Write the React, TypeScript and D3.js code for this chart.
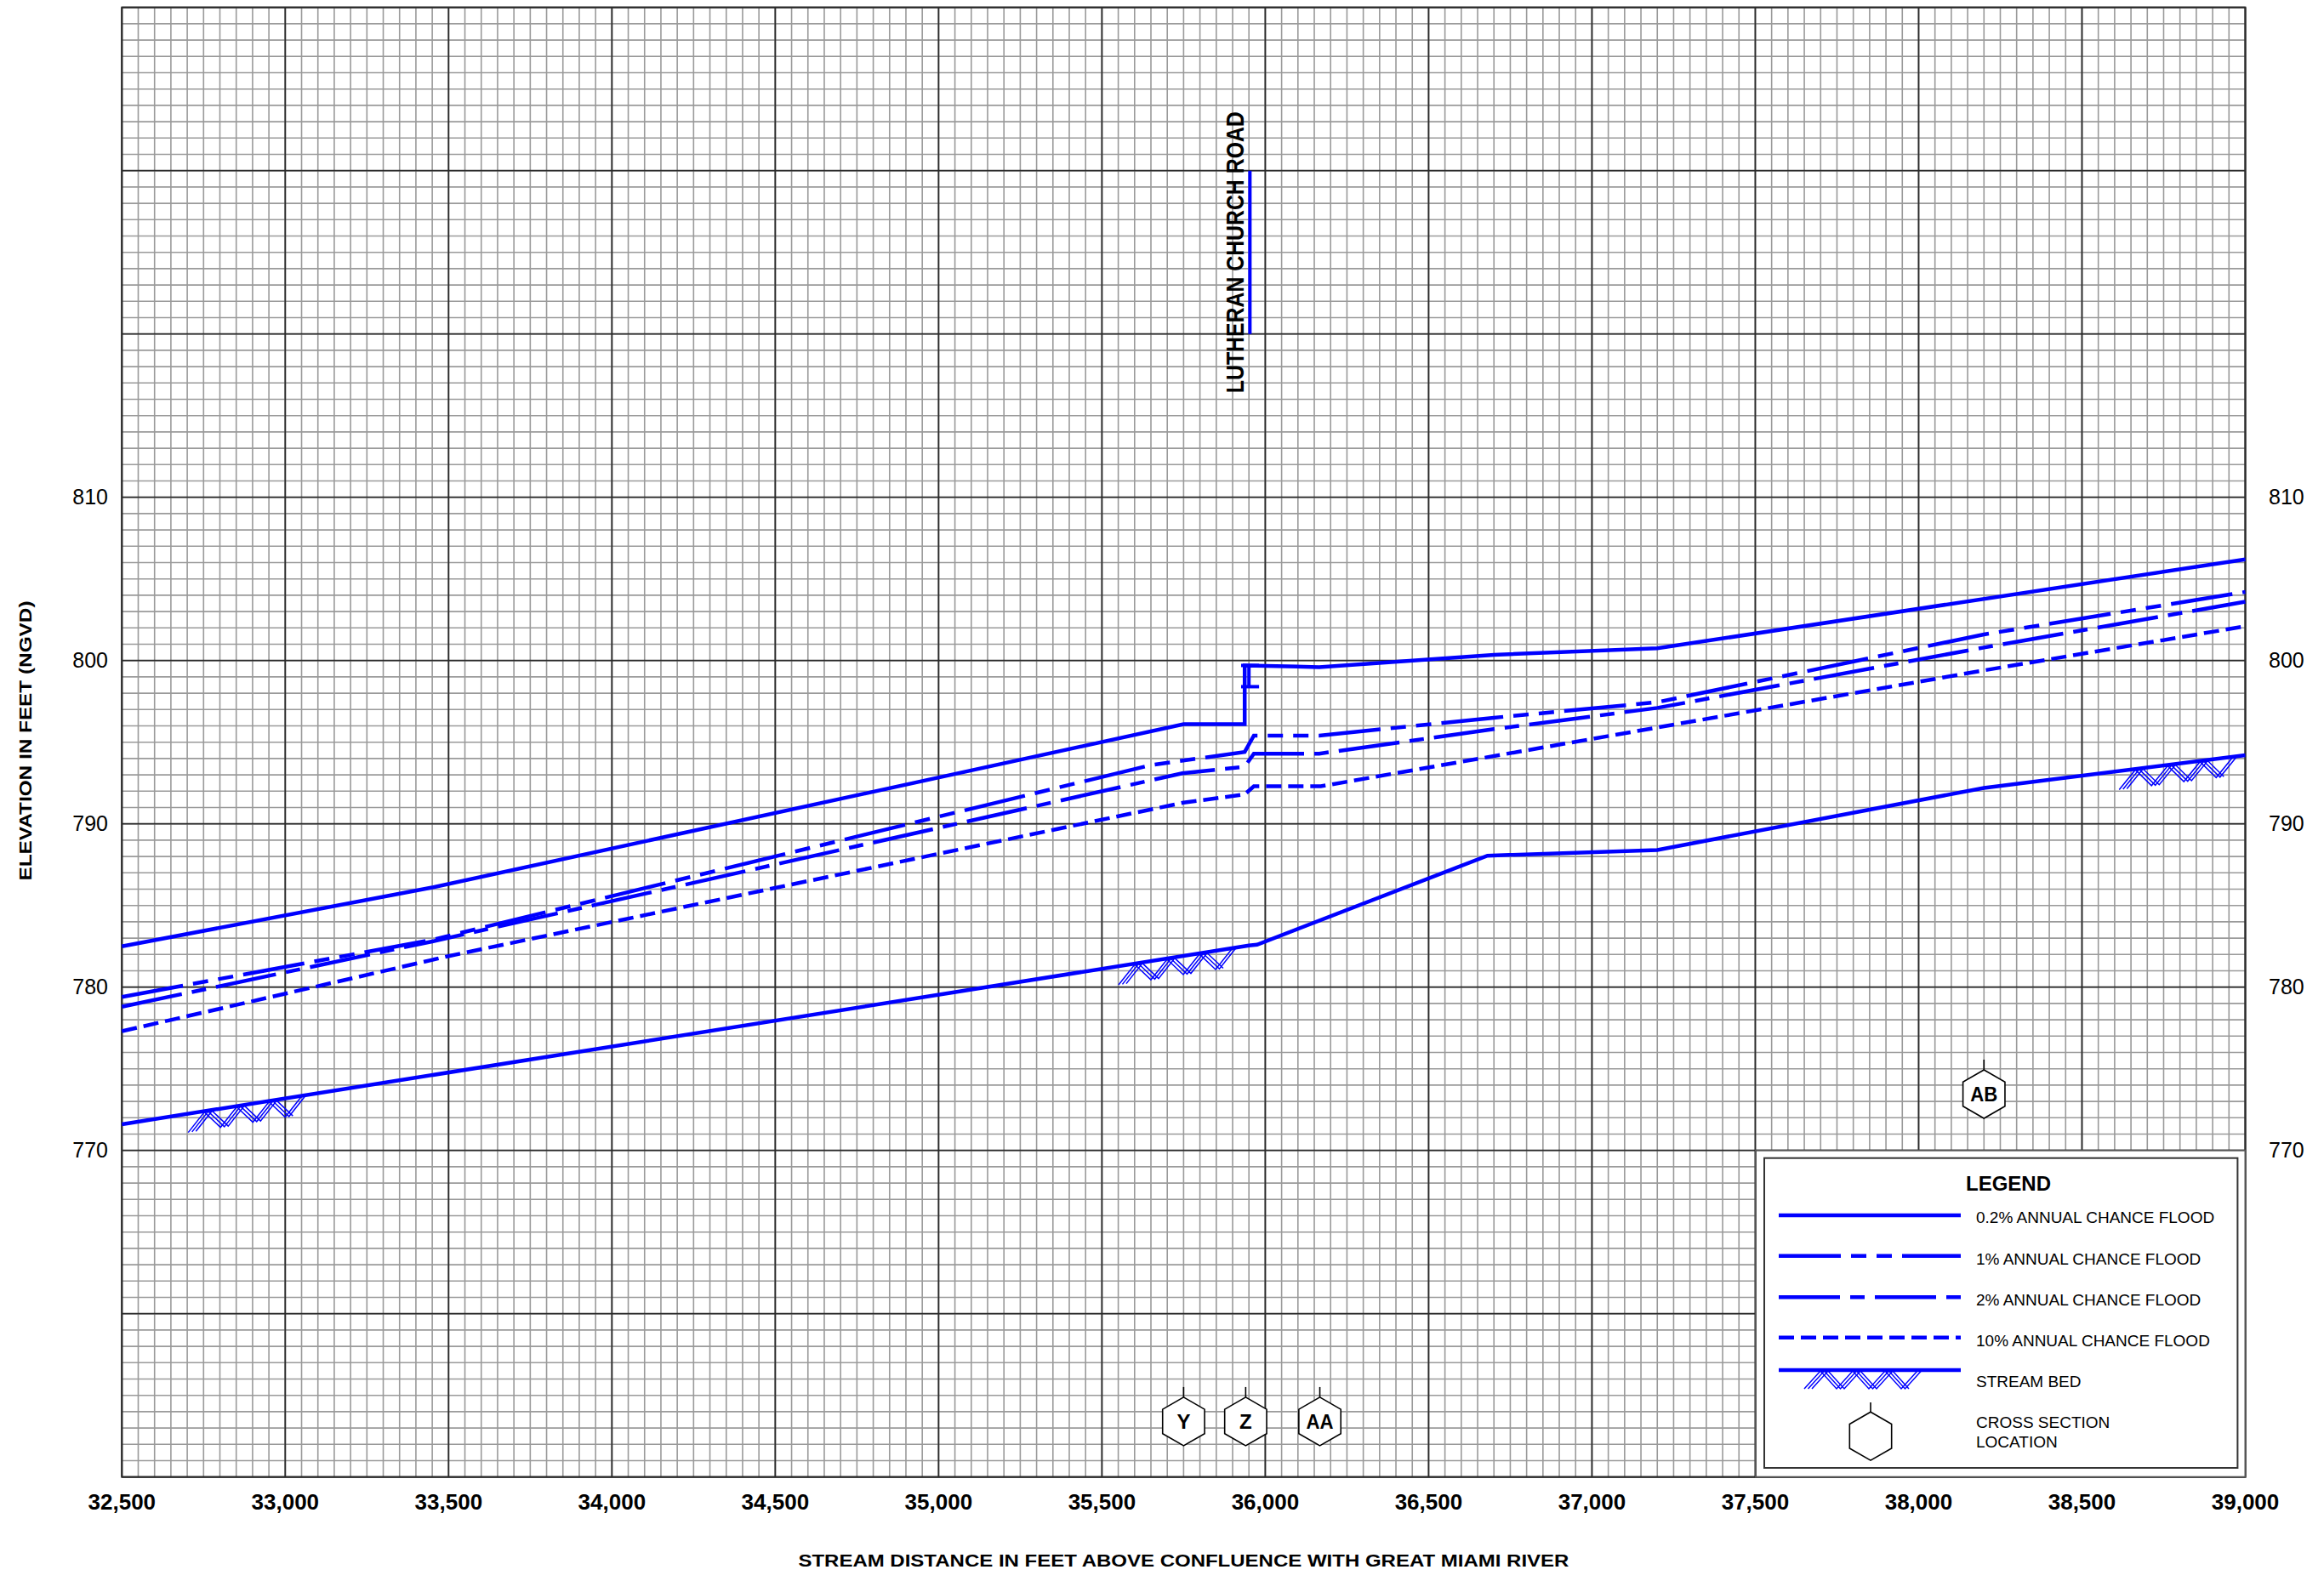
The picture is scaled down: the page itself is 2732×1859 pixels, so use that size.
import React from 'react';
import * as d3 from 'd3';

// stream profile data (station in feet, elevation in feet NGVD)
const xTicks = d3.range(32500, 39001, 500);
const yLabels = [770, 780, 790, 800, 810];

const flood02: [number, number][] = [
  [32500, 782.5], [33450, 786.1], [35750, 796.1], [35937, 796.1], [35937, 799.7],
  [36165, 799.6], [36700, 800.35], [37200, 800.75], [39000, 806.2],
];
const flood1: [number, number][] = [
  [32500, 779.4], [33450, 782.9], [35650, 793.6], [35937, 794.4], [35965, 795.4],
  [36165, 795.4], [36700, 796.5], [37200, 797.45], [38200, 801.6], [39000, 804.2],
];
const flood2: [number, number][] = [
  [32500, 778.8], [33450, 782.8], [35746, 793.1], [35937, 793.5], [35965, 794.3],
  [36165, 794.3], [36700, 795.8], [37200, 797.1], [38200, 800.8], [39000, 803.6],
];
const flood10: [number, number][] = [
  [32500, 777.3], [33500, 781.9], [35750, 791.3], [35937, 791.8], [35965, 792.3],
  [36170, 792.3], [37200, 795.9], [38200, 799.4], [39000, 802.1],
];
const streamBed: [number, number][] = [
  [32500, 771.6], [35950, 782.55], [35975, 782.6], [36680, 788.05], [37200, 788.4],
  [38200, 792.2], [39000, 794.2],
];

const hatchFrom = [32703, 35551, 38614];
const hatchTo = [33067, 35915, 38981];

const xsLabels = ['Y', 'Z', 'AA', 'AB'];
const xsStations = [35750, 35940, 36167, 38200];
const xsElev = [753.4, 753.4, 753.4, 773.45];

const legendLabels = [
  '0.2% ANNUAL CHANCE FLOOD',
  '1% ANNUAL CHANCE FLOOD',
  '2% ANNUAL CHANCE FLOOD',
  '10% ANNUAL CHANCE FLOOD',
];
const dashes = ['none', '73 12 18 12 18 12', '72 12 17 12', '18 8'];

const BLUE = '#0000ff';
const FONT = '"Liberation Sans", Arial, sans-serif';

const x = d3.scaleLinear().domain([32500, 39000]).range([143.3, 2639.5]);
const y = d3.scaleLinear().domain([750, 840]).range([1736.7, 8.7]);
const bedAt = d3.scaleLinear().domain(streamBed.map(d => d[0])).range(streamBed.map(d => d[1]));

const line = d3.line<[number, number]>().x(d => x(d[0])).y(d => y(d[1]));

const hexPath = (cx: number, cy: number, r = 28.5) => {
  const pts = d3.range(6).map(i => {
    const a = -Math.PI / 2 + (i * Math.PI) / 3;
    return [cx + r * Math.cos(a), cy + r * Math.sin(a)];
  });
  return 'M' + pts.map(p => p.join(',')).join('L') + 'Z';
};

// herringbone hatch under the bed line: offset zigzag strokes
const hatch = (x0: number, x1: number, yTop: (px: number) => number, key: string) => {
  const p = 38, d = 22;
  const out: JSX.Element[] = [];
  [0, 4.5, 9].forEach((off, k) => {
    const pts: [number, number][] = [];
    let i = 0;
    for (let px = x0; px <= x1 - off + 0.5; px += p / 2) {
      const xx = px + off;
      pts.push([xx, i % 2 === 0 ? yTop(xx) + d : yTop(xx) + 1]);
      i++;
    }
    out.push(
      <path key={key + k} d={d3.line()(pts) || ''} fill="none" stroke={BLUE} strokeWidth={1.5} />
    );
  });
  return out;
};

const App = () => {
  const minorX = d3.range(32500, 39001, 50);
  const minorY = d3.range(750, 841, 1);
  const majorX = d3.range(32500, 39001, 500);
  const majorY = d3.range(750, 841, 10);
  const [x0, x1] = x.range();
  const [yb, yt] = y.range();

  // legend layout
  const lgX = 2064, lgY = 1352.7;
  const lineY = [1429, 1476.7, 1525.3, 1572.7];
  const textY = [1438, 1486.7, 1535, 1582.7];

  return (
    <svg width={2732} height={1859} style={{ position: 'absolute', left: 0, top: 0, background: '#fff' }} fontFamily={FONT}>
      <rect width={2732} height={1859} fill="#fff" />
      {/* grid */}
      <g>
        {minorX.map(v => (
          <line key={'mx' + v} x1={x(v)} x2={x(v)} y1={yt} y2={yb} stroke="#9a9a9a" strokeWidth={1.6} />
        ))}
        {minorY.map(v => (
          <line key={'my' + v} x1={x0} x2={x1} y1={y(v)} y2={y(v)} stroke="#9a9a9a" strokeWidth={1.6} />
        ))}
        {majorX.map(v => (
          <line key={'Mx' + v} x1={x(v)} x2={x(v)} y1={yt} y2={yb} stroke="#2a2a2a" strokeWidth={1.8} />
        ))}
        {majorY.map(v => (
          <line key={'My' + v} x1={x0} x2={x1} y1={y(v)} y2={y(v)} stroke="#2a2a2a" strokeWidth={1.8} />
        ))}
        <rect x={x0} y={yt} width={x1 - x0} height={yb - yt} fill="none" stroke="#2a2a2a" strokeWidth={2} />
      </g>

      {/* y labels both sides */}
      {yLabels.map(v => (
        <g key={'yl' + v}>
          <text x={127} y={y(v)} dy="0.35em" textAnchor="end" fontSize={25}>{v}</text>
          <text x={2667} y={y(v)} dy="0.35em" textAnchor="start" fontSize={25}>{v}</text>
        </g>
      ))}
      {/* x labels */}
      {xTicks.map(v => (
        <text key={'xl' + v} x={x(v)} y={1775} textAnchor="middle" fontSize={26} fontWeight="bold">
          {d3.format(',')(v)}
        </text>
      ))}
      <text x={(x0 + x1) / 2} y={1842} textAnchor="middle" fontSize={20} fontWeight="bold"
        textLength={906} lengthAdjust="spacingAndGlyphs">
        STREAM DISTANCE IN FEET ABOVE CONFLUENCE WITH GREAT MIAMI RIVER
      </text>
      <text transform={`translate(37,871) rotate(-90)`} textAnchor="middle" fontSize={20} fontWeight="bold"
        textLength={329} lengthAdjust="spacingAndGlyphs">
        ELEVATION IN FEET (NGVD)
      </text>

      {/* road */}
      <line x1={x(35953)} x2={x(35953)} y1={y(820)} y2={y(830)} stroke={BLUE} strokeWidth={4} />
      <text transform={`translate(${x(35953) - 7.6},${y(825)}) rotate(-90)`} textAnchor="middle"
        fontSize={30} fontWeight="bold" textLength={331} lengthAdjust="spacingAndGlyphs">
        LUTHERAN CHURCH ROAD
      </text>

      {/* profiles */}
      {[flood02, flood1, flood2, flood10].map((s, i) => (
        <path key={'f' + i} d={line(s) || ''} fill="none" stroke={BLUE} strokeWidth={4.5}
          strokeDasharray={dashes[i]} />
      ))}
      <path d={line(streamBed) || ''} fill="none" stroke={BLUE} strokeWidth={4.5} />
      {hatchFrom.map((a, i) =>
        hatch(x(a), x(hatchTo[i]), px => y(bedAt(x.invert(px))), 'h' + i)
      )}

      {/* bridge deck marks */}
      <g stroke={BLUE} strokeWidth={4}>
        <line x1={x(35926)} x2={x(35981)} y1={y(799.7)} y2={y(799.7)} />
        <line x1={x(35926)} x2={x(35981)} y1={y(798.4)} y2={y(798.4)} />
        <line x1={x(35950)} x2={x(35950)} y1={y(799.7)} y2={y(798.4)} />
      </g>

      {/* cross sections */}
      {xsLabels.map((l, i) => {
        const cx = x(xsStations[i]);
        const cy = y(xsElev[i]);
        return (
          <g key={'xs' + l}>
            <path d={hexPath(cx, cy)} fill="#fff" stroke="#000" strokeWidth={1.6} />
            <line x1={cx} x2={cx} y1={cy - 28.5} y2={cy - 40.5} stroke="#000" strokeWidth={1.6} />
            <text x={cx} y={cy + 9} textAnchor="middle" fontSize={24} fontWeight="bold"
              textLength={l.length > 1 ? 32 : undefined} lengthAdjust="spacingAndGlyphs">{l}</text>
          </g>
        );
      })}

      {/* legend */}
      <rect x={lgX} y={lgY} width={x1 - lgX} height={yb - lgY} fill="#fff" stroke="#555" strokeWidth={2} />
      <rect x={2074} y={1361.7} width={2630.4 - 2074} height={1726 - 1361.7} fill="none" stroke="#333" strokeWidth={2} />
      <text x={2361} y={1400} textAnchor="middle" fontSize={24} fontWeight="bold">LEGEND</text>
      {legendLabels.map((l, i) => (
        <g key={'lg' + i}>
          <line x1={2091} x2={2305} y1={lineY[i]} y2={lineY[i]} stroke={BLUE} strokeWidth={4.5}
            strokeDasharray={dashes[i]} />
          <text x={2323} y={textY[i]} fontSize={19}>{l}</text>
        </g>
      ))}
      <line x1={2091} x2={2305} y1={1611} y2={1611} stroke={BLUE} strokeWidth={4.5} />
      {hatch(2121, 2262, () => 1611, 'lgh')}
      <text x={2323} y={1630.7} fontSize={19}>STREAM BED</text>
      <path d={hexPath(2199, 1688.7)} fill="#fff" stroke="#000" strokeWidth={1.6} />
      <line x1={2199} x2={2199} y1={1660.2} y2={1649} stroke="#000" strokeWidth={1.6} />
      <text x={2323} y={1679.3} fontSize={19}>CROSS SECTION</text>
      <text x={2323} y={1701.7} fontSize={19}>LOCATION</text>
    </svg>
  );
};

export default App;
